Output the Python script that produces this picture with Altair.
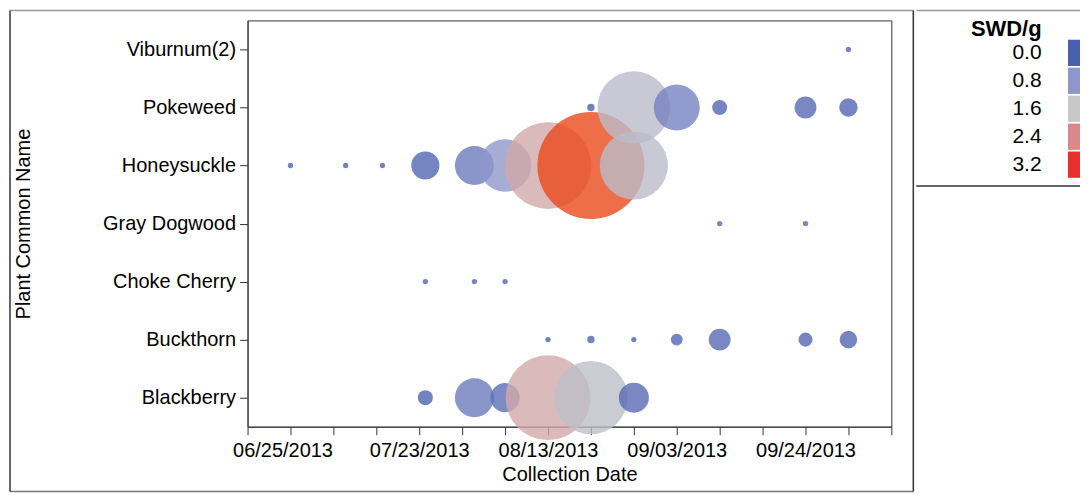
import pandas as pd
import altair as alt

# ---------------- data ----------------
plant_order = ["Viburnum(2)", "Pokeweed", "Honeysuckle", "Gray Dogwood",
               "Choke Cherry", "Buckthorn", "Blackberry"]

plant = ["Blackberry", "Blackberry", "Blackberry", "Blackberry", "Blackberry", "Blackberry",
         "Buckthorn", "Buckthorn", "Buckthorn", "Buckthorn", "Buckthorn", "Buckthorn", "Buckthorn",
         "Choke Cherry", "Choke Cherry", "Choke Cherry",
         "Gray Dogwood", "Gray Dogwood",
         "Honeysuckle", "Honeysuckle", "Honeysuckle", "Honeysuckle", "Honeysuckle",
         "Honeysuckle", "Honeysuckle", "Honeysuckle", "Honeysuckle",
         "Pokeweed", "Pokeweed", "Pokeweed", "Pokeweed", "Pokeweed", "Pokeweed",
         "Viburnum(2)"]

date = ["2013-07-24", "2013-08-01", "2013-08-06", "2013-08-13", "2013-08-20", "2013-08-27",
        "2013-08-13", "2013-08-20", "2013-08-27", "2013-09-03", "2013-09-10", "2013-09-24", "2013-10-01",
        "2013-07-24", "2013-08-01", "2013-08-06",
        "2013-09-10", "2013-09-24",
        "2013-07-02", "2013-07-11", "2013-07-17", "2013-07-24", "2013-08-01",
        "2013-08-06", "2013-08-13", "2013-08-20", "2013-08-27",
        "2013-08-20", "2013-08-27", "2013-09-03", "2013-09-10", "2013-09-24", "2013-10-01",
        "2013-10-01"]

swd_count = [8, 54, 30, 256, 191, 32,
             1, 2, 1, 5, 17, 7, 11,
             1, 1, 1,
             1, 1,
             1, 1, 1, 28, 54, 97, 267, 407, 165,
             2, 187, 75, 8, 17, 12,
             1]

swd_per_g = [0.05, 0.4, 0.2, 2.0, 1.45, 0.15,
             0.05, 0.1, 0.05, 0.1, 0.15, 0.1, 0.1,
             0.1, 0.1, 0.1,
             0.1, 0.1,
             0.05, 0.05, 0.05, 0.1, 0.4, 0.8, 2.0, 3.6, 1.4,
             0.05, 1.4, 0.5, 0.1, 0.15, 0.1,
             0.1]

tick_dates = ["2013-06-25", "2013-07-02", "2013-07-09", "2013-07-16", "2013-07-23",
              "2013-07-30", "2013-08-06", "2013-08-13", "2013-08-20", "2013-08-27",
              "2013-09-03", "2013-09-10", "2013-09-17", "2013-09-24", "2013-10-01",
              "2013-10-08"]
labelled_dates = ["06/25/2013", "07/23/2013", "08/13/2013", "09/03/2013", "09/24/2013"]

legend_values = [0.0, 0.8, 1.6, 2.4, 3.2]
legend_labels = ["0.0", "0.8", "1.6", "2.4", "3.2"]

color_domain = [0.0, 0.8, 1.6, 2.4, 3.2, 3.6]
color_range = ["#4a5fae", "#8f97cc", "#c8c8c8", "#d9898a", "#e8302a", "#ea4a1c"]

df = pd.DataFrame({"plant": plant, "date": date, "count": swd_count, "swd": swd_per_g})
leg_df = pd.DataFrame({"swd": legend_values, "label": legend_labels})
one = pd.DataFrame({"k": [0]})


def dt(s):
    y, m, d = (int(v) for v in s.split("-"))
    return alt.DateTime(year=y, month=m, date=d, utc=True)


FONT = "Liberation Sans"
color_scale = alt.Scale(domain=color_domain, range=color_range, interpolate="rgb")
label_expr = ("indexof(" + str(labelled_dates).replace("'", '"') +
              ", utcFormat(datum.value, '%m/%d/%Y')) >= 0 ? utcFormat(datum.value, '%m/%d/%Y') : ''")

points = alt.Chart(df).mark_circle(opacity=0.8).encode(
    x=alt.X("date:T",
            scale=alt.Scale(type="utc", domain=[dt(tick_dates[0]), dt(tick_dates[-1])], nice=False),
            axis=alt.Axis(title="Collection Date", values=[dt(s) for s in tick_dates],
                          labelExpr=label_expr, labelFlush=True, labelFlushOffset=15,
                          labelOverlap=False, tickSize=8, labelPadding=6, titlePadding=4,
                          grid=False)),
    y=alt.Y("plant:N", sort=plant_order,
            axis=alt.Axis(title="Plant Common Name", tickSize=8, labelPadding=4,
                          titlePadding=69, grid=False)),
    size=alt.Size("count:Q", scale=alt.Scale(domain=[0, 410], range=[0, 410 * 28.274]), legend=None),
    color=alt.Color("swd:Q", scale=color_scale, legend=None),
)

dark = "#333333"
light = "#9a9a9a"
L, T, B, R = -238, -10, 472, 667
frame_top = alt.Chart(one).mark_rule(color=light, strokeWidth=1.5).encode(
    x=alt.value(L), x2=alt.value(R), y=alt.value(T))
frame_bottom = alt.Chart(one).mark_rule(color="#777777", strokeWidth=1.5).encode(
    x=alt.value(L), x2=alt.value(R), y=alt.value(B))
frame_left = alt.Chart(one).mark_rule(color=dark, strokeWidth=1.5).encode(
    x=alt.value(L), y=alt.value(T), y2=alt.value(B))
frame_right = alt.Chart(one).mark_rule(color=dark, strokeWidth=1.5).encode(
    x=alt.value(R), y=alt.value(T), y2=alt.value(B))

main = alt.layer(points, frame_top, frame_bottom, frame_left, frame_right).properties(
    width=645, height=407)

LEG_W = 12
leg_rect = alt.Chart(leg_df).mark_rect().encode(
    y=alt.Y("label:N", sort=legend_labels,
            scale=alt.Scale(paddingInner=0.06, paddingOuter=0.69),
            axis=alt.Axis(title="SWD/g", titleAngle=0, titleAlign="right", titleBaseline="middle",
                          titleX=-27, titleY=8, titleFontSize=22, titleFontWeight="bold",
                          labelFontSize=21, labelPadding=27, ticks=False, tickSize=0,
                          domain=False, grid=False)),
    x=alt.value(0), x2=alt.value(LEG_W),
    color=alt.Color("swd:Q", scale=color_scale, legend=None),
)
leg_top = alt.Chart(one).mark_rule(color=light, strokeWidth=1.5).encode(
    x=alt.value(-152), x2=alt.value(LEG_W), y=alt.value(T))
leg_div = alt.Chart(one).mark_rule(color=dark, strokeWidth=1.5).encode(
    x=alt.value(-152), x2=alt.value(LEG_W), y=alt.value(166))

legend = alt.layer(leg_rect, leg_top, leg_div).properties(
    width=LEG_W, height=177, view=alt.ViewBackground(strokeWidth=0))

chart = alt.hconcat(main, legend, spacing=0).properties(padding=0).configure(
    font=FONT
).configure_view(
    stroke=dark, strokeWidth=1
).configure_axis(
    labelFont=FONT, titleFont=FONT, labelFontSize=20, titleFontSize=20,
    labelColor="black", titleColor="black", titleFontWeight="normal",
    domainColor=dark, tickColor=dark, domainWidth=1, tickWidth=1
)

chart.save("out.html", embed_options={"renderer": "svg", "actions": False})
